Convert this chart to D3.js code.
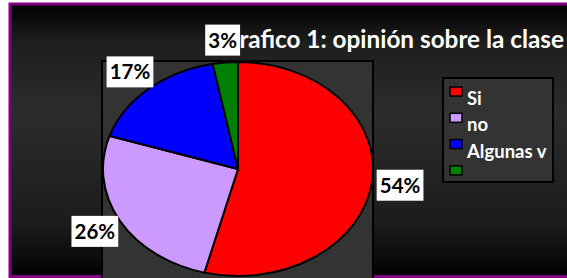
<!DOCTYPE html>
<html>
<head>
<meta charset="utf-8">
<script src="https://cdn.jsdelivr.net/npm/d3@7"></script>
<style>
  html, body { margin: 0; padding: 0; background: #fff; }
  svg { display: block; font-family: Lato, "Open Sans", sans-serif; }
</style>
</head>
<body>
<div id="chart"></div>
<script>
// datos del grafico
const categories = ['Si', 'no', 'Algunas v', '']
const values = [54, 26, 17, 3]
const colors = ['#ff0000', '#cc99ff', '#0000ff', '#008000']
const title = 'Grafico 1: opinión sobre la clase'

const W = 567, H = 278
const svg = d3.select('#chart').append('svg')
  .attr('width', W)
  .attr('height', H)

// fondo con degradado
const defs = svg.append('defs')
const grad = defs.append('linearGradient')
  .attr('id', 'bg')
  .attr('x1', 0).attr('y1', 0).attr('x2', 0).attr('y2', 1)
;[[0, '#000'], [0.14, '#1e1e1e'], [0.4, '#2c2c2c'], [0.8, '#1c1c1c'], [0.93, '#0c0c0c'], [1, '#000']]
  .forEach(s => grad.append('stop').attr('offset', s[0]).attr('stop-color', s[1]))

svg.append('rect')
  .attr('x', 10).attr('y', 4)
  .attr('width', W + 10).attr('height', H - 5.5)
  .attr('fill', 'url(#bg)')
  .attr('stroke', '#800080')
  .attr('stroke-width', 3)

// area del grafico
svg.append('rect')
  .attr('x', 102).attr('y', 61)
  .attr('width', 271).attr('height', 230)
  .attr('fill', '#333')
  .attr('stroke', '#000')
  .attr('stroke-width', 2)

// pie (eliptico)
const cx = 238, cy = 169, rx = 135, ry = 107
const pieData = d3.pie().sort(null).value(d => d)(values)
const arc = d3.arc().innerRadius(0).outerRadius(ry)

const pieG = svg.append('g')
  .attr('transform', 'translate(' + cx + ',' + cy + ') scale(' + (rx / ry) + ',1)')

pieG.selectAll('path')
  .data(pieData)
  .enter()
  .append('path')
  .attr('d', arc)
  .attr('fill', (d, i) => colors[i])
  .attr('stroke', '#000')
  .attr('stroke-width', 2)
  .attr('vector-effect', 'non-scaling-stroke')

// titulo (la etiqueta 3% tapa la primera letra, como en el original)
svg.append('text')
  .attr('x', 564).attr('y', 48)
  .attr('text-anchor', 'end')
  .attr('font-size', 24.3)
  .attr('font-weight', 'bold')
  .attr('fill', '#fff')
  .text(title)

// etiquetas de porcentaje
const k = 1.21
pieData.forEach((d, i) => {
  const a = (d.startAngle + d.endAngle) / 2
  const lx = cx + k * rx * Math.sin(a)
  const ly = cy - k * ry * Math.cos(a)
  const g = svg.append('g')
  const box = g.append('rect').attr('fill', '#fff')
  const t = g.append('text')
    .attr('x', lx).attr('y', ly + 7.5)
    .attr('text-anchor', 'middle')
    .attr('font-size', 20.5)
    .attr('font-weight', 'bold')
    .attr('fill', '#000')
    .text(values[i] + '%')
  const bb = t.node().getBBox()
  box.attr('x', lx - bb.width / 2 - 3)
    .attr('y', ly - 15.5)
    .attr('width', bb.width + 6)
    .attr('height', 31)
})

// leyenda
const leg = svg.append('g').attr('transform', 'translate(443,78)')
leg.append('rect')
  .attr('width', 110).attr('height', 104)
  .attr('fill', '#333')
  .attr('stroke', '#000')
  .attr('stroke-width', 2)

categories.forEach((c, i) => {
  const y = 9 + i * 26.3
  leg.append('rect')
    .attr('x', 7).attr('y', y)
    .attr('width', 12).attr('height', 9)
    .attr('fill', colors[i])
    .attr('stroke', '#000')
    .attr('stroke-width', 1.5)
  leg.append('text')
    .attr('x', 24).attr('y', y + 18)
    .attr('font-size', 18.5)
    .attr('font-weight', 'bold')
    .attr('fill', '#fff')
    .text(c)
})
</script>
</body>
</html>
